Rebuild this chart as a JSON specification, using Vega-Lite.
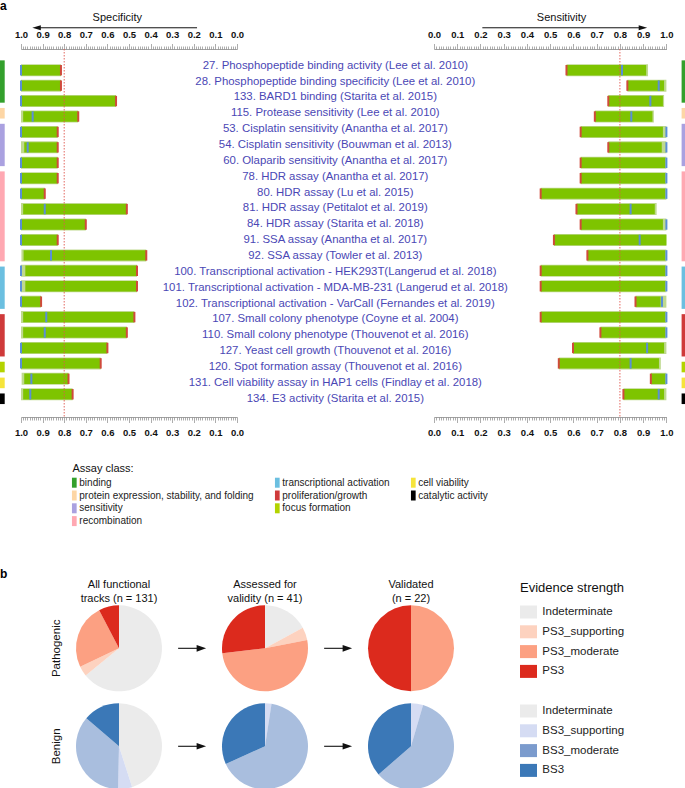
{
  "$schema": "https://vega.github.io/schema/vega-lite/v6.json",
  "padding": 0,
  "background": "white",
  "config": {
    "view": {"stroke": null},
    "font": "Liberation Sans",
    "text": {"font": "Liberation Sans"},
    "axis": {"labelFont": "Liberation Sans", "titleFont": "Liberation Sans"},
    "legend": {"labelFont": "Liberation Sans", "titleFont": "Liberation Sans"}
  },
  "datasets": {
    "rows": [
      {"i": 0, "label": "27. Phosphopeptide binding activity (Lee et al. 2010)", "cls": "binding", "spLo": 0.815, "spEst": 1.0, "spHi": 1.0, "spMax": 1.0, "seLo": 0.57, "seEst": 0.809, "seHi": 0.913, "seMax": 0.921},
      {"i": 1, "label": "28. Phosphopeptide binding specificity (Lee et al. 2010)", "cls": "binding", "spLo": 0.815, "spEst": 1.0, "spHi": 1.0, "spMax": 1.0, "seLo": 0.832, "seEst": 0.967, "seHi": 0.99, "seMax": 1.0},
      {"i": 2, "label": "133. BARD1 binding (Starita et al. 2015)", "cls": "binding", "spLo": 0.56, "spEst": 1.0, "spHi": 1.0, "spMax": 1.0, "seLo": 0.75, "seEst": 0.931, "seHi": 0.985, "seMax": 0.99},
      {"i": 3, "label": "115. Protease sensitivity (Lee et al. 2010)", "cls": "protein expression, stability, and folding", "spLo": 0.735, "spEst": 0.946, "spHi": 0.99, "spMax": 1.0, "seLo": 0.692, "seEst": 0.849, "seHi": 0.94, "seMax": 0.946},
      {"i": 4, "label": "53. Cisplatin sensitivity (Anantha et al. 2017)", "cls": "sensitivity", "spLo": 0.83, "spEst": 1.0, "spHi": 1.0, "spMax": 1.0, "seLo": 0.631, "seEst": 1.0, "seHi": 0.985, "seMax": 1.0},
      {"i": 5, "label": "54. Cisplatin sensitivity (Bouwman et al. 2013)", "cls": "sensitivity", "spLo": 0.83, "spEst": 0.969, "spHi": 0.985, "spMax": 1.0, "seLo": 0.75, "seEst": 1.0, "seHi": 0.98, "seMax": 1.0},
      {"i": 6, "label": "60. Olaparib sensitivity (Anantha et al. 2017)", "cls": "sensitivity", "spLo": 0.83, "spEst": 1.0, "spHi": 1.0, "spMax": 1.0, "seLo": 0.631, "seEst": 1.0, "seHi": 0.995, "seMax": 1.0},
      {"i": 7, "label": "78. HDR assay (Anantha et al. 2017)", "cls": "recombination", "spLo": 0.83, "spEst": 1.0, "spHi": 1.0, "spMax": 1.0, "seLo": 0.631, "seEst": 1.0, "seHi": 0.995, "seMax": 1.0},
      {"i": 8, "label": "80. HDR assay (Lu et al. 2015)", "cls": "recombination", "spLo": 0.89, "spEst": 1.0, "spHi": 1.0, "spMax": 1.0, "seLo": 0.459, "seEst": 1.0, "seHi": 0.995, "seMax": 1.0},
      {"i": 9, "label": "81. HDR assay (Petitalot et al. 2019)", "cls": "recombination", "spLo": 0.51, "spEst": 0.89, "spHi": 0.99, "spMax": 1.0, "seLo": 0.613, "seEst": 0.846, "seHi": 0.95, "seMax": 0.958},
      {"i": 10, "label": "84. HDR assay (Starita et al. 2018)", "cls": "recombination", "spLo": 0.70, "spEst": 1.0, "spHi": 1.0, "spMax": 1.0, "seLo": 0.631, "seEst": 1.0, "seHi": 0.985, "seMax": 1.0},
      {"i": 11, "label": "91. SSA assay (Anantha et al. 2017)", "cls": "recombination", "spLo": 0.83, "spEst": 1.0, "spHi": 1.0, "spMax": 1.0, "seLo": 0.516, "seEst": 0.885, "seHi": 1.0, "seMax": 1.0},
      {"i": 12, "label": "92. SSA assay (Towler et al. 2013)", "cls": "recombination", "spLo": 0.42, "spEst": 0.861, "spHi": 0.988, "spMax": 0.998, "seLo": 0.66, "seEst": 1.0, "seHi": 0.995, "seMax": 1.0},
      {"i": 13, "label": "100. Transcriptional activation - HEK293T(Langerud et al. 2018)", "cls": "transcriptional activation", "spLo": 0.463, "spEst": 1.0, "spHi": 0.98, "spMax": 1.0, "seLo": 0.459, "seEst": 1.0, "seHi": 0.995, "seMax": 1.0},
      {"i": 14, "label": "101. Transcriptional activation - MDA-MB-231 (Langerud et al. 2018)", "cls": "transcriptional activation", "spLo": 0.463, "spEst": 1.0, "spHi": 0.98, "spMax": 1.0, "seLo": 0.459, "seEst": 1.0, "seHi": 0.995, "seMax": 1.0},
      {"i": 15, "label": "102. Transcriptional activation - VarCall (Fernandes et al. 2019)", "cls": "transcriptional activation", "spLo": 0.907, "spEst": 1.0, "spHi": 1.0, "spMax": 1.0, "seLo": 0.867, "seEst": 0.981, "seHi": 0.975, "seMax": 1.0},
      {"i": 16, "label": "107. Small colony phenotype (Coyne et al. 2004)", "cls": "proliferation/growth", "spLo": 0.475, "spEst": 0.883, "spHi": 0.99, "spMax": 1.0, "seLo": 0.459, "seEst": 1.0, "seHi": 0.995, "seMax": 1.0},
      {"i": 17, "label": "110. Small colony phenotype (Thouvenot et al. 2016)", "cls": "proliferation/growth", "spLo": 0.51, "spEst": 0.89, "spHi": 0.99, "spMax": 1.0, "seLo": 0.716, "seEst": 1.0, "seHi": 0.995, "seMax": 1.0},
      {"i": 18, "label": "127. Yeast cell growth (Thouvenot et al. 2016)", "cls": "proliferation/growth", "spLo": 0.60, "spEst": 1.0, "spHi": 1.0, "spMax": 1.0, "seLo": 0.598, "seEst": 0.917, "seHi": 0.99, "seMax": 1.0},
      {"i": 19, "label": "120. Spot formation assay (Thouvenot et al. 2016)", "cls": "focus formation", "spLo": 0.631, "spEst": 1.0, "spHi": 1.0, "spMax": 1.0, "seLo": 0.537, "seEst": 0.846, "seHi": 0.968, "seMax": 0.976},
      {"i": 20, "label": "131. Cell viability assay in HAP1 cells (Findlay et al. 2018)", "cls": "cell viability", "spLo": 0.78, "spEst": 0.952, "spHi": 0.985, "spMax": 0.997, "seLo": 0.933, "seEst": 1.0, "seHi": 0.995, "seMax": 1.0},
      {"i": 21, "label": "134. E3 activity (Starita et al. 2015)", "cls": "catalytic activity", "spLo": 0.761, "spEst": 0.957, "spHi": 0.99, "spMax": 1.0, "seLo": 0.815, "seEst": 0.967, "seHi": 0.99, "seMax": 1.0}
    ],
    "pies": [
      {"row": "Pathogenic", "col": 0, "strength": "Indeterminate (P)", "level": 0, "n": 84},
      {"row": "Pathogenic", "col": 0, "strength": "PS3_supporting", "level": 1, "n": 5},
      {"row": "Pathogenic", "col": 0, "strength": "PS3_moderate", "level": 2, "n": 32},
      {"row": "Pathogenic", "col": 0, "strength": "PS3", "level": 3, "n": 10},
      {"row": "Pathogenic", "col": 1, "strength": "Indeterminate (P)", "level": 0, "n": 7},
      {"row": "Pathogenic", "col": 1, "strength": "PS3_supporting", "level": 1, "n": 2},
      {"row": "Pathogenic", "col": 1, "strength": "PS3_moderate", "level": 2, "n": 21},
      {"row": "Pathogenic", "col": 1, "strength": "PS3", "level": 3, "n": 11},
      {"row": "Pathogenic", "col": 2, "strength": "PS3_moderate", "level": 2, "n": 11},
      {"row": "Pathogenic", "col": 2, "strength": "PS3", "level": 3, "n": 11},
      {"row": "Benign", "col": 0, "strength": "Indeterminate (B)", "level": 0, "n": 59},
      {"row": "Benign", "col": 0, "strength": "BS3_supporting", "level": 1, "n": 7},
      {"row": "Benign", "col": 0, "strength": "BS3_moderate", "level": 2, "n": 47},
      {"row": "Benign", "col": 0, "strength": "BS3", "level": 3, "n": 18},
      {"row": "Benign", "col": 1, "strength": "BS3_supporting", "level": 1, "n": 1},
      {"row": "Benign", "col": 1, "strength": "BS3_moderate", "level": 2, "n": 27},
      {"row": "Benign", "col": 1, "strength": "BS3", "level": 3, "n": 13},
      {"row": "Benign", "col": 2, "strength": "BS3_supporting", "level": 1, "n": 1},
      {"row": "Benign", "col": 2, "strength": "BS3_moderate", "level": 2, "n": 13},
      {"row": "Benign", "col": 2, "strength": "BS3", "level": 3, "n": 8}
    ]
  },
  "bounds": "flush",
  "spacing": 556.3,
  "resolve": {"scale": {"color": "independent", "x": "independent", "y": "independent"}},
  "vconcat": [
    {
      "bounds": "flush",
      "spacing": 0,
      "resolve": {"scale": {"color": "independent", "x": "independent", "y": "independent"}},
      "hconcat": [
        {
          "width": 20.7,
          "height": 368,
          "layer": [
            {
              "data": {"name": "rows"},
              "transform": [{"aggregate": [{"op": "min", "field": "i", "as": "first"}, {"op": "max", "field": "i", "as": "last"}], "groupby": ["cls"]}],
              "mark": {"type": "rect", "yOffset": -5.3, "y2Offset": 5.3},
              "encoding": {
                "x": {"datum": 0, "type": "quantitative", "scale": {"domain": [0, 4.4], "zero": false, "nice": false}, "axis": null},
                "x2": {"datum": 1},
                "y": {"field": "first", "type": "quantitative", "scale": {"domain": [-1.05, 22.15], "reverse": true, "zero": false, "nice": false}, "axis": null},
                "y2": {"field": "last"},
                "color": {
                  "field": "cls",
                  "type": "nominal",
                  "scale": {
                    "domain": ["binding", "protein expression, stability, and folding", "sensitivity", "recombination", "transcriptional activation", "proliferation/growth", "focus formation", " ", "cell viability", "catalytic activity", "  ", "   "],
                    "range": ["#33a02c", "#fdd6a5", "#aaa1e0", "#ffa8b2", "#6bbfe0", "#cf3a3a", "#b3d300", "rgba(255,255,255,0)", "#f6e43a", "#000000", "rgba(255,255,255,0)", "rgba(255,255,255,0)"]
                  },
                  "legend": {
                    "orient": "none",
                    "legendX": 72.5,
                    "legendY": 414.2,
                    "title": "Assay class:",
                    "titleFontSize": 11,
                    "titleFontWeight": "normal",
                    "titleColor": "#111",
                    "titlePadding": 3.5,
                    "columns": 3,
                    "columnPadding": 20,
                    "rowPadding": 2.8,
                    "symbolType": "M-0.47,-1H0.47V1H-0.47Z",
                    "symbolSize": 100,
                    "symbolStrokeWidth": 0,
                    "symbolOffset": -3.2,
                    "labelFontSize": 10,
                    "labelColor": "#222",
                    "labelOffset": 0,
                    "labelLimit": 300,
                    "padding": 0
                  }
                }
              }
            },
            {
              "data": {"values": [{}]},
              "mark": {"type": "text", "text": "a", "align": "left", "baseline": "top", "fontSize": 12, "fontWeight": "bold", "color": "#000"},
              "encoding": {
                "x": {"datum": 0, "type": "quantitative", "scale": {"domain": [0, 4.4], "zero": false, "nice": false}},
                "y": {"datum": -4.057, "type": "quantitative", "scale": {"domain": [-1.05, 22.15], "reverse": true, "zero": false, "nice": false}}
              }
            }
          ]
        },
        {
          "width": 216,
          "height": 368,
          "data": {"name": "rows"},
          "resolve": {"axis": {"x": "independent"}},
          "layer": [
            {
              "mark": {"type": "bar", "orient": "horizontal", "height": 12, "color": "#bfd98f"},
              "encoding": {
                "x": {"field": "spLo", "type": "quantitative", "scale": {"domain": [0, 1], "reverse": true, "zero": false, "nice": false},
                  "axis": {"orient": "top", "title": null, "tickCount": 100, "grid": false,
                    "labelExpr": "abs(datum.value*10 - round(datum.value*10)) < 0.001 ? format(datum.value, '.1f') : ''",
                    "labelFontWeight": "bold", "labelFontSize": 9.5, "labelColor": "#111", "labelPadding": 4,
                    "labelOverlap": false, "labelFlush": false, "labelBound": false,
                    "tickColor": "#8a8a8a", "tickWidth": 0.7, "domainColor": "#8a8a8a", "domainWidth": 0.8,
                    "tickSize": {"condition": {"test": "abs(datum.value*10 - round(datum.value*10)) < 0.001", "value": 5.5}, "value": 3}}},
                "x2": {"field": "spMax"},
                "y": {"field": "i", "type": "quantitative", "scale": {"domain": [-1.05, 22.15], "reverse": true, "zero": false, "nice": false}, "axis": null}
              }
            },
            {
              "mark": {"type": "bar", "orient": "horizontal", "height": 10.4, "color": "#7ec400"},
              "encoding": {
                "x": {"field": "spLo", "type": "quantitative", "scale": {"domain": [0, 1], "reverse": true, "zero": false, "nice": false},
                  "axis": {"orient": "bottom", "title": null, "tickCount": 100, "grid": false,
                    "labelExpr": "abs(datum.value*10 - round(datum.value*10)) < 0.001 ? format(datum.value, '.1f') : ''",
                    "labelFontWeight": "bold", "labelFontSize": 9.5, "labelColor": "#111", "labelPadding": 5,
                    "labelOverlap": false, "labelFlush": false, "labelBound": false,
                    "tickColor": "#8a8a8a", "tickWidth": 0.7, "domainColor": "#8a8a8a", "domainWidth": 0.8,
                    "tickSize": {"condition": {"test": "abs(datum.value*10 - round(datum.value*10)) < 0.001", "value": 5.5}, "value": 3}}},
                "x2": {"field": "spHi"},
                "y": {"field": "i", "type": "quantitative", "scale": {"domain": [-1.05, 22.15], "reverse": true, "zero": false, "nice": false}, "axis": null}
              }
            },
            {
              "mark": {"type": "tick", "orient": "vertical", "thickness": 2, "size": 10.4, "color": "#d04a3c", "opacity": 1},
              "encoding": {
                "x": {"field": "spLo", "type": "quantitative", "scale": {"domain": [0, 1], "reverse": true, "zero": false, "nice": false}, "axis": null},
                "y": {"field": "i", "type": "quantitative", "scale": {"domain": [-1.05, 22.15], "reverse": true, "zero": false, "nice": false}, "axis": null}
              }
            },
            {
              "mark": {"type": "tick", "orient": "vertical", "thickness": 2, "size": 10.4, "color": "#5a8fd6", "opacity": 1},
              "encoding": {
                "x": {"field": "spEst", "type": "quantitative", "scale": {"domain": [0, 1], "reverse": true, "zero": false, "nice": false}, "axis": null},
                "y": {"field": "i", "type": "quantitative", "scale": {"domain": [-1.05, 22.15], "reverse": true, "zero": false, "nice": false}, "axis": null}
              }
            },
            {
              "data": {"values": [{}]},
              "mark": {"type": "rule", "color": "#e0564e", "strokeDash": [1.5, 1.5], "strokeWidth": 0.9},
              "encoding": {"x": {"datum": 0.8, "type": "quantitative", "scale": {"domain": [0, 1], "reverse": true, "zero": false, "nice": false}, "axis": null}}
            },
            {
              "data": {"values": [{}]},
              "mark": {"type": "text", "text": "Specificity", "fontSize": 11, "baseline": "alphabetic", "align": "center", "color": "#111"},
              "encoding": {
                "x": {"datum": 0.554, "type": "quantitative", "scale": {"domain": [0, 1], "reverse": true, "zero": false, "nice": false}, "axis": null},
                "y": {"datum": -3.18, "type": "quantitative", "scale": {"domain": [-1.05, 22.15], "reverse": true, "zero": false, "nice": false}, "axis": null}
              }
            },
            {
              "data": {"values": [{}]},
              "mark": {"type": "rule", "color": "#111", "strokeWidth": 1},
              "encoding": {
                "x": {"datum": 0.185, "type": "quantitative", "scale": {"domain": [0, 1], "reverse": true, "zero": false, "nice": false}, "axis": null},
                "x2": {"datum": 0.93},
                "y": {"datum": -2.75, "type": "quantitative", "scale": {"domain": [-1.05, 22.15], "reverse": true, "zero": false, "nice": false}, "axis": null}
              }
            },
            {
              "data": {"values": [{}]},
              "mark": {"type": "point", "shape": "M-1,0L1,-0.6L1,0.6Z", "size": 72, "filled": true, "color": "#111", "opacity": 1, "strokeWidth": 0},
              "encoding": {
                "x": {"datum": 0.928, "type": "quantitative", "scale": {"domain": [0, 1], "reverse": true, "zero": false, "nice": false}, "axis": null},
                "y": {"datum": -2.75, "type": "quantitative", "scale": {"domain": [-1.05, 22.15], "reverse": true, "zero": false, "nice": false}, "axis": null}
              }
            }
          ]
        },
        {
          "width": 196.6,
          "height": 368,
          "data": {"name": "rows"},
          "mark": {"type": "text", "fontSize": 11.4, "color": "#4a47b5"},
          "encoding": {
            "y": {"field": "i", "type": "quantitative", "scale": {"domain": [-1.05, 22.15], "reverse": true, "zero": false, "nice": false}, "axis": null},
            "text": {"field": "label"}
          }
        },
        {
          "width": 232.4,
          "height": 368,
          "data": {"name": "rows"},
          "resolve": {"axis": {"x": "independent"}},
          "layer": [
            {
              "mark": {"type": "bar", "orient": "horizontal", "height": 12, "color": "#bfd98f"},
              "encoding": {
                "x": {"field": "seLo", "type": "quantitative", "scale": {"domain": [0, 1], "zero": false, "nice": false},
                  "axis": {"orient": "top", "title": null, "tickCount": 100, "grid": false,
                    "labelExpr": "abs(datum.value*10 - round(datum.value*10)) < 0.001 ? format(datum.value, '.1f') : ''",
                    "labelFontWeight": "bold", "labelFontSize": 9.5, "labelColor": "#111", "labelPadding": 4,
                    "labelOverlap": false, "labelFlush": false, "labelBound": false,
                    "tickColor": "#8a8a8a", "tickWidth": 0.7, "domainColor": "#8a8a8a", "domainWidth": 0.8,
                    "tickSize": {"condition": {"test": "abs(datum.value*10 - round(datum.value*10)) < 0.001", "value": 5.5}, "value": 3}}},
                "x2": {"field": "seMax"},
                "y": {"field": "i", "type": "quantitative", "scale": {"domain": [-1.05, 22.15], "reverse": true, "zero": false, "nice": false}, "axis": null}
              }
            },
            {
              "mark": {"type": "bar", "orient": "horizontal", "height": 10.4, "color": "#7ec400"},
              "encoding": {
                "x": {"field": "seLo", "type": "quantitative", "scale": {"domain": [0, 1], "zero": false, "nice": false},
                  "axis": {"orient": "bottom", "title": null, "tickCount": 100, "grid": false,
                    "labelExpr": "abs(datum.value*10 - round(datum.value*10)) < 0.001 ? format(datum.value, '.1f') : ''",
                    "labelFontWeight": "bold", "labelFontSize": 9.5, "labelColor": "#111", "labelPadding": 5,
                    "labelOverlap": false, "labelFlush": false, "labelBound": false,
                    "tickColor": "#8a8a8a", "tickWidth": 0.7, "domainColor": "#8a8a8a", "domainWidth": 0.8,
                    "tickSize": {"condition": {"test": "abs(datum.value*10 - round(datum.value*10)) < 0.001", "value": 5.5}, "value": 3}}},
                "x2": {"field": "seHi"},
                "y": {"field": "i", "type": "quantitative", "scale": {"domain": [-1.05, 22.15], "reverse": true, "zero": false, "nice": false}, "axis": null}
              }
            },
            {
              "mark": {"type": "tick", "orient": "vertical", "thickness": 2, "size": 10.4, "color": "#d04a3c", "opacity": 1},
              "encoding": {
                "x": {"field": "seLo", "type": "quantitative", "scale": {"domain": [0, 1], "zero": false, "nice": false}, "axis": null},
                "y": {"field": "i", "type": "quantitative", "scale": {"domain": [-1.05, 22.15], "reverse": true, "zero": false, "nice": false}, "axis": null}
              }
            },
            {
              "mark": {"type": "tick", "orient": "vertical", "thickness": 2, "size": 10.4, "color": "#5a8fd6", "opacity": 1},
              "encoding": {
                "x": {"field": "seEst", "type": "quantitative", "scale": {"domain": [0, 1], "zero": false, "nice": false}, "axis": null},
                "y": {"field": "i", "type": "quantitative", "scale": {"domain": [-1.05, 22.15], "reverse": true, "zero": false, "nice": false}, "axis": null}
              }
            },
            {
              "data": {"values": [{}]},
              "mark": {"type": "rule", "color": "#e0564e", "strokeDash": [1.5, 1.5], "strokeWidth": 0.9},
              "encoding": {"x": {"datum": 0.8, "type": "quantitative", "scale": {"domain": [0, 1], "zero": false, "nice": false}, "axis": null}}
            },
            {
              "data": {"values": [{}]},
              "mark": {"type": "text", "text": "Sensitivity", "fontSize": 11, "baseline": "alphabetic", "align": "center", "color": "#111"},
              "encoding": {
                "x": {"datum": 0.549, "type": "quantitative", "scale": {"domain": [0, 1], "zero": false, "nice": false}, "axis": null},
                "y": {"datum": -3.18, "type": "quantitative", "scale": {"domain": [-1.05, 22.15], "reverse": true, "zero": false, "nice": false}, "axis": null}
              }
            },
            {
              "data": {"values": [{}]},
              "mark": {"type": "rule", "color": "#111", "strokeWidth": 1},
              "encoding": {
                "x": {"datum": 0.208, "type": "quantitative", "scale": {"domain": [0, 1], "zero": false, "nice": false}, "axis": null},
                "x2": {"datum": 0.9},
                "y": {"datum": -2.75, "type": "quantitative", "scale": {"domain": [-1.05, 22.15], "reverse": true, "zero": false, "nice": false}, "axis": null}
              }
            },
            {
              "data": {"values": [{}]},
              "mark": {"type": "point", "shape": "M1,0L-1,-0.6L-1,0.6Z", "size": 72, "filled": true, "color": "#111", "opacity": 1, "strokeWidth": 0},
              "encoding": {
                "x": {"datum": 0.899, "type": "quantitative", "scale": {"domain": [0, 1], "zero": false, "nice": false}, "axis": null},
                "y": {"datum": -2.75, "type": "quantitative", "scale": {"domain": [-1.05, 22.15], "reverse": true, "zero": false, "nice": false}, "axis": null}
              }
            }
          ]
        },
        {
          "width": 19.3,
          "height": 368,
          "data": {"name": "rows"},
          "transform": [{"aggregate": [{"op": "min", "field": "i", "as": "first"}, {"op": "max", "field": "i", "as": "last"}], "groupby": ["cls"]}],
          "mark": {"type": "rect", "yOffset": -5.3, "y2Offset": 5.3},
          "encoding": {
            "x": {"datum": 3.1, "type": "quantitative", "scale": {"domain": [0, 4.1], "zero": false, "nice": false}, "axis": null},
            "x2": {"datum": 4.1},
            "y": {"field": "first", "type": "quantitative", "scale": {"domain": [-1.05, 22.15], "reverse": true, "zero": false, "nice": false}, "axis": null},
            "y2": {"field": "last"},
            "color": {
              "field": "cls",
              "type": "nominal",
              "scale": {
                "domain": ["binding", "protein expression, stability, and folding", "sensitivity", "recombination", "transcriptional activation", "proliferation/growth", "focus formation", "cell viability", "catalytic activity"],
                "range": ["#33a02c", "#fdd6a5", "#aaa1e0", "#ffa8b2", "#6bbfe0", "#cf3a3a", "#b3d300", "#f6e43a", "#000000"]
              },
              "legend": null
            }
          }
        }
      ]
    },
    {
      "width": 530,
      "height": 184,
      "layer": [
        {
          "data": {"name": "pies"},
          "transform": [{"stack": "n", "groupby": ["row", "col"], "sort": [{"field": "level", "order": "ascending"}], "offset": "normalize", "as": ["t0", "t1"]}],
          "mark": {"type": "arc", "outerRadius": 43, "innerRadius": 0, "strokeWidth": 0},
          "encoding": {
            "x": {"field": "col", "type": "quantitative", "stack": null, "scale": {"domain": [-0.815, 2.815], "zero": false, "nice": false}, "axis": null},
            "y": {"field": "row", "type": "nominal", "scale": {"type": "point", "domain": ["Pathogenic", "Benign"], "padding": 0.439}, "axis": null},
            "theta": {"field": "t0", "type": "quantitative", "scale": {"domain": [0, 1], "range": [0, 6.283185307179586]}, "stack": null},
            "theta2": {"field": "t1"},
            "color": {
              "field": "strength",
              "type": "nominal",
              "scale": {
                "domain": ["Indeterminate (P)", "PS3_supporting", "PS3_moderate", "PS3", " (gap)", "Indeterminate (B)", "BS3_supporting", "BS3_moderate", "BS3"],
                "range": ["#ebebeb", "#fdd2bf", "#fca082", "#dc2a1d", "rgba(255,255,255,0)", "#ebebeb", "#d5dcf3", "#7b9bcd", "#3b78b7"]
              },
              "legend": {
                "orient": "none",
                "legendX": 520,
                "legendY": -23.3,
                "title": "Evidence strength",
                "titleFontSize": 13,
                "titleFontWeight": "normal",
                "titleColor": "#111",
                "titlePadding": 8.5,
                "symbolType": "M-1,-0.765H1V0.765H-1Z",
                "symbolSize": 289,
                "symbolStrokeWidth": 0,
                "symbolOpacity": 1,
                "labelFontSize": 11.5,
                "labelColor": "#222",
                "labelOffset": 5.3,
                "labelLimit": 300,
                "rowPadding": 3.8,
                "padding": 0,
                "labelExpr": "split(datum.label, ' (')[0]"
              }
            },
            "opacity": {"condition": {"test": "datum.strength === 'BS3_moderate'", "value": 0.65}, "value": 1}
          }
        },
        {
          "data": {"values": [{"row": "Pathogenic"}, {"row": "Benign"}]},
          "mark": {"type": "text", "angle": 270, "align": "center", "baseline": "alphabetic", "fontSize": 11.5, "color": "#111"},
          "encoding": {
            "x": {"datum": -0.407, "type": "quantitative", "scale": {"domain": [-0.815, 2.815], "zero": false, "nice": false}, "axis": null},
            "y": {"field": "row", "type": "nominal", "scale": {"type": "point", "domain": ["Pathogenic", "Benign"], "padding": 0.439}, "axis": null},
            "text": {"field": "row"}
          }
        },
        {
          "data": {"values": [{"col": 0, "title": "All functional|tracks (n = 131)"}, {"col": 1, "title": "Assessed for|validity (n = 41)"}, {"col": 2, "title": "Validated|(n = 22)"}]},
          "mark": {"type": "text", "lineBreak": "|", "lineHeight": 14.5, "fontSize": 11, "dy": -63.8, "baseline": "middle", "align": "center", "color": "#111"},
          "encoding": {
            "x": {"field": "col", "type": "quantitative", "scale": {"domain": [-0.815, 2.815], "zero": false, "nice": false}, "axis": null},
            "y": {"datum": "Pathogenic", "type": "nominal", "scale": {"type": "point", "domain": ["Pathogenic", "Benign"], "padding": 0.439}, "axis": null},
            "text": {"field": "title"}
          }
        },
        {
          "data": {"values": [{}]},
          "mark": {"type": "text", "text": "b", "align": "left", "baseline": "alphabetic", "fontSize": 12, "fontWeight": "bold", "dy": -70.3, "color": "#000"},
          "encoding": {
            "x": {"datum": -0.815, "type": "quantitative", "scale": {"domain": [-0.815, 2.815], "zero": false, "nice": false}, "axis": null},
            "y": {"datum": "Pathogenic", "type": "nominal", "scale": {"type": "point", "domain": ["Pathogenic", "Benign"], "padding": 0.439}, "axis": null}
          }
        },
        {
          "data": {"values": [{"row": "Pathogenic"}, {"row": "Benign"}]},
          "mark": {"type": "rule", "color": "#111", "strokeWidth": 1.1},
          "encoding": {
            "x": {"datum": 0.405, "type": "quantitative", "scale": {"domain": [-0.815, 2.815], "zero": false, "nice": false}, "axis": null},
            "x2": {"datum": 0.56},
            "y": {"field": "row", "type": "nominal", "scale": {"type": "point", "domain": ["Pathogenic", "Benign"], "padding": 0.439}, "axis": null}
          }
        },
        {
          "data": {"values": [{"row": "Pathogenic"}, {"row": "Benign"}]},
          "mark": {"type": "point", "shape": "M1,0L-1,-0.7L-1,0.7Z", "size": 90, "filled": true, "color": "#111", "opacity": 1, "strokeWidth": 0},
          "encoding": {
            "x": {"datum": 0.564, "type": "quantitative", "scale": {"domain": [-0.815, 2.815], "zero": false, "nice": false}, "axis": null},
            "y": {"field": "row", "type": "nominal", "scale": {"type": "point", "domain": ["Pathogenic", "Benign"], "padding": 0.439}, "axis": null}
          }
        },
        {
          "data": {"values": [{"row": "Pathogenic"}, {"row": "Benign"}]},
          "mark": {"type": "rule", "color": "#111", "strokeWidth": 1.1},
          "encoding": {
            "x": {"datum": 1.405, "type": "quantitative", "scale": {"domain": [-0.815, 2.815], "zero": false, "nice": false}, "axis": null},
            "x2": {"datum": 1.56},
            "y": {"field": "row", "type": "nominal", "scale": {"type": "point", "domain": ["Pathogenic", "Benign"], "padding": 0.439}, "axis": null}
          }
        },
        {
          "data": {"values": [{"row": "Pathogenic"}, {"row": "Benign"}]},
          "mark": {"type": "point", "shape": "M1,0L-1,-0.7L-1,0.7Z", "size": 90, "filled": true, "color": "#111", "opacity": 1, "strokeWidth": 0},
          "encoding": {
            "x": {"datum": 1.564, "type": "quantitative", "scale": {"domain": [-0.815, 2.815], "zero": false, "nice": false}, "axis": null},
            "y": {"field": "row", "type": "nominal", "scale": {"type": "point", "domain": ["Pathogenic", "Benign"], "padding": 0.439}, "axis": null}
          }
        }
      ]
    }
  ]
}
